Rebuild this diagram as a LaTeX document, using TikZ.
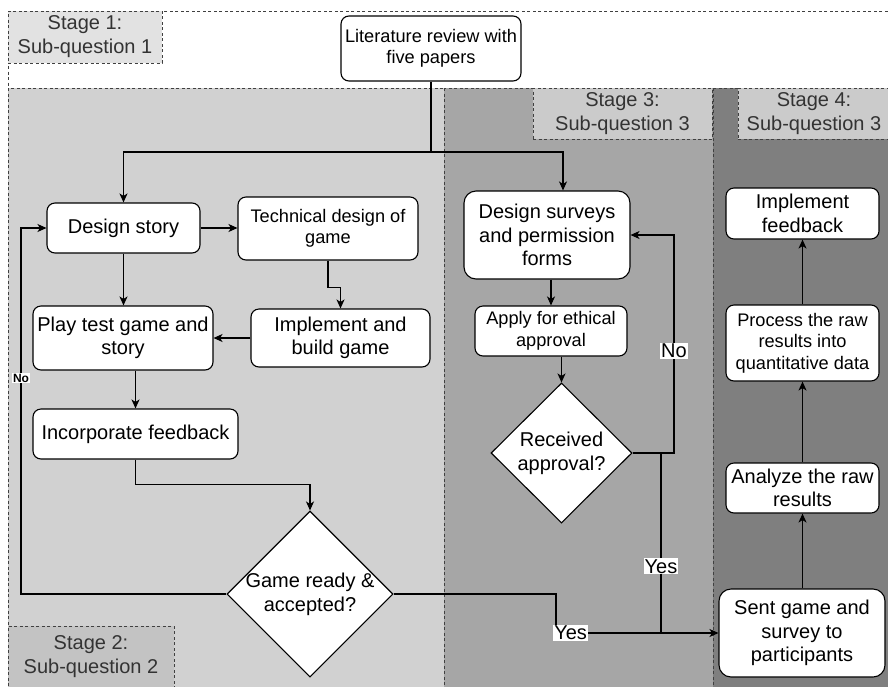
\documentclass[tikz,border=0pt]{standalone}
\usepackage{fontspec}
\setmainfont{Liberation Sans}
\usetikzlibrary{shapes.geometric,arrows.meta}
\definecolor{regiontwo}{HTML}{D1D1D1}
\definecolor{regionthree}{HTML}{A6A6A6}
\definecolor{regionfour}{HTML}{7F7F7F}
\definecolor{labelone}{HTML}{E2E2E2}
\definecolor{labeltwo}{HTML}{C3C3C3}
\definecolor{labelthree}{HTML}{CBCBCB}
\begin{document}
\begin{tikzpicture}[x=1pt,y=-1pt]
     \tikzstyle{procbox}=[draw, fill=white, rounded corners=8pt, line width=1.1pt, align=center, inner sep=0pt, font=\fontsize{20}{23.5}\selectfont]
     \tikzstyle{smallbox}=[procbox, font=\fontsize{18.2}{21.5}\selectfont]
     \tikzstyle{decision}=[draw, fill=white, diamond, line width=1.1pt, align=center, inner sep=-5pt, font=\fontsize{20}{24}\selectfont]
     \tikzstyle{region}=[draw=black!75, dash pattern=on 3pt off 2.5pt, line width=0.9pt]
     \tikzstyle{stagelabel}=[region, align=center, inner sep=0pt, text=black!80, font=\fontsize{20}{24}\selectfont]
     \tikzstyle{arrow}=[line width=1.1pt, -{Stealth[length=9pt,width=8pt,inset=2.5pt]}]
     \tikzstyle{answer}=[fill=white, inner sep=1pt, font=\fontsize{20}{22}\selectfont]
     \useasboundingbox (0,0) rectangle (888,686);
     \clip (0,0) rectangle (888,686);
     \draw[region, fill=white] (8,11) rectangle (900,700);
     \draw[region, fill=regiontwo] (8,88) rectangle (444,700);
     \draw[region, fill=regionthree] (444,88) rectangle (713,700);
     \draw[region, fill=regionfour] (713,88) rectangle (900,700);
     \node[stagelabel, fill=labelone, minimum width=154pt, minimum height=52pt] (stageone) at (85,37) {Stage 1:\\Sub-question 1};
     \node[stagelabel, fill=labeltwo, minimum width=166pt, minimum height=62pt] (stagetwo) at (91,657) {Stage 2:\\Sub-question 2};
     \node[stagelabel, fill=labelthree, minimum width=179pt, minimum height=51pt] (stagethree) at (622.5,113.5) {Stage 3:\\Sub-question 3};
     \node[stagelabel, fill=labelthree, minimum width=152pt, minimum height=51pt] (stagefour) at (814,113.5) {Stage 4:\\Sub-question 3};
     \node[smallbox, minimum width=180pt, minimum height=65pt] (lit) at (431,48.5) {Literature review with\\five papers};
     \node[procbox, minimum width=153pt, minimum height=50pt] (story) at (123.5,228) {Design story};
     \node[smallbox, minimum width=180pt, minimum height=63pt] (tech) at (328,228.5) {Technical design of\\game};
     \node[procbox, minimum width=180pt, minimum height=64pt] (play) at (123,338) {Play test game and\\story};
     \node[procbox, minimum width=179pt, minimum height=58pt] (impl) at (340.5,338) {Implement and\\build game};
     \node[procbox, minimum width=205pt, minimum height=50pt] (incorp) at (135.5,434) {Incorporate feedback};
     \node[decision, minimum width=166pt, minimum height=166pt] (game) at (310,594) {Game ready \&\\accepted?};
     \node[procbox, minimum width=166pt, minimum height=88pt, rounded corners=12pt] (surveys) at (547,235) {Design surveys\\and permission\\forms};
     \node[smallbox, minimum width=152pt, minimum height=50pt] (apply) at (551,331) {Apply for ethical\\approval};
     \node[decision, minimum width=141pt, minimum height=140pt] (received) at (561.5,453) {Received\\approval?};
     \node[procbox, minimum width=153pt, minimum height=51pt] (implfb) at (802.5,213.5) {Implement\\feedback};
     \node[smallbox, minimum width=153pt, minimum height=76pt] (process) at (802.5,343) {Process the raw\\results into\\quantitative data};
     \node[procbox, minimum width=153pt, minimum height=50pt] (analyze) at (802.5,488) {Analyze the raw\\results};
     \node[procbox, minimum width=166pt, minimum height=88pt, rounded corners=12pt] (sent) at (802,633) {Sent game and\\survey to\\participants};
     \coordinate (split) at (431,152);
     \coordinate (yesjoin) at (661,633);
     \draw[line width=1.1pt] (lit.south) -- (split);
     \draw[arrow] (split) -| (story.north);
     \draw[arrow] (split) -| ([xshift=16pt]surveys.north);
     \draw[arrow] (story.east) -- (tech.west |- story.east);
     \draw[arrow] (tech.south) -- ++(0,27) -| (impl.north);
     \draw[arrow] (impl.west) -- (play.east |- impl.west);
     \draw[arrow] (story.south) -- (story.south |- play.north);
     \draw[arrow] (incorp.north |- play.south) -- (incorp.north);
     \draw[arrow] (incorp.south) -- ++(0,25) -| (game.north);
     \draw[arrow] (game.west) -- (21,594) -- node[pos=0.59, answer, font=\fontsize{12}{14}\selectfont\bfseries]{No} (21,228) -- (story.west);
     \draw[arrow] (game.east) -- (556,594) -- (556,633) -- node[pos=0.09, answer]{Yes} (sent.west);
     \draw[line width=1.1pt] (received.east -| yesjoin) -- node[pos=0.63, answer]{Yes} (yesjoin);
     \draw[arrow] (received.east) -- (674,453) -- node[pos=0.47, answer]{No} (674,235) -- (surveys.east);
     \draw[arrow] (surveys.south -| apply.north) -- (apply.north);
     \draw[arrow] (apply.south -| received.north) -- (received.north);
     \draw[arrow] (sent.north -| analyze.south) -- (analyze.south);
     \draw[arrow] (analyze.north) -- (process.south);
     \draw[arrow] (process.north) -- (implfb.south);
\end{tikzpicture}
\end{document}
